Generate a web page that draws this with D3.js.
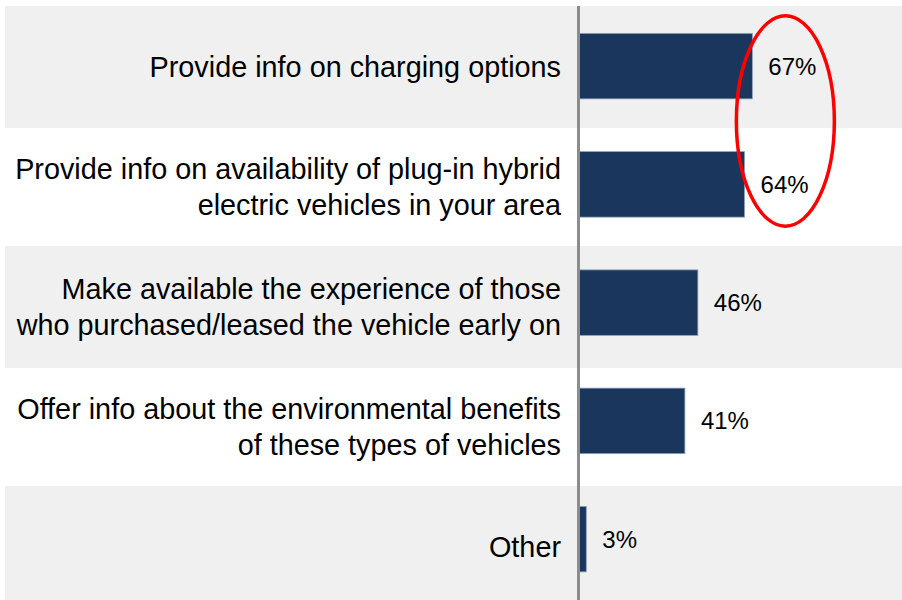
<!DOCTYPE html>
<html lang="en">
  <head>
    <meta charset="UTF-8" />
    <title>Ways to encourage plug-in hybrid adoption</title>
    <style>
      body {
        margin: 0;
        background-color: #ffffff;
      }
      svg {
        display: block;
        font-family: "Liberation Sans", Arial, sans-serif;
      }
    </style>
  </head>
  <body>
    <div id="chart"></div>

    <script src="https://d3js.org/d3.v7.min.js"></script>
    <script>
      // data
      const categories = [
        "Provide info on charging options",
        "Provide info on availability of plug-in hybrid\nelectric vehicles in your area",
        "Make available the experience of those\nwho purchased/leased the vehicle early on",
        "Offer info about the environmental benefits\nof these types of vehicles",
        "Other"
      ];
      const values = [67, 64, 46, 41, 3];
      const valueLabels = ["67%", "64%", "46%", "41%", "3%"];
      const highlighted = [0, 1]; // rows circled in red

      const width = 902;
      const height = 600;

      const svg = d3
        .select("#chart")
        .append("svg")
        .attr("width", width)
        .attr("height", height);

      // x scale: percent -> pixels, zero at the vertical axis
      const x = d3.scaleLinear().domain([0, 100]).range([578.5, 838]);

      // row scale for the striped background and the category labels
      const rows = d3.scaleBand().domain(d3.range(categories.length)).range([7, 607]);

      // bar scale
      const y = d3
        .scaleBand()
        .domain(d3.range(categories.length))
        .range([7, 598.25])
        .paddingInner(0.446)
        .paddingOuter(0.223);

      // alternating grey bands
      svg
        .append("g")
        .selectAll("rect")
        .data(categories.filter((d, i) => i % 2 === 0).map((d, k) => k * 2))
        .join("rect")
        .attr("x", 5)
        .attr("y", (i) => rows(i) - 1)
        .attr("width", width - 5)
        .attr("height", rows.bandwidth() + 2)
        .attr("fill", "#f0f0f0");

      // bars
      svg
        .append("g")
        .selectAll("rect")
        .data(values)
        .join("rect")
        .attr("x", x(0))
        .attr("y", (d, i) => y(i))
        .attr("width", (d) => x(d) - x(0))
        .attr("height", y.bandwidth())
        .attr("fill", "#1a365d")
        .attr("stroke", "#8ea2bd")
        .attr("stroke-width", 0.8);

      // vertical axis line
      svg
        .append("line")
        .attr("x1", x(0))
        .attr("x2", x(0))
        .attr("y1", 6)
        .attr("y2", height)
        .attr("stroke", "#8c8c8c")
        .attr("stroke-width", 3);

      // category labels (right aligned, centred on the row)
      const lineHeight = 36;
      const labels = svg
        .append("g")
        .selectAll("text")
        .data(categories)
        .join("text")
        .attr("text-anchor", "end")
        .attr("font-size", "28.8px")
        .attr("fill", "#000");

      labels.each(function (d, i) {
        const lines = d.split("\n");
        const c = rows(i) + rows.bandwidth() / 2;
        d3.select(this)
          .selectAll("tspan")
          .data(lines)
          .join("tspan")
          .attr("x", 561)
          .attr("y", (l, j) => c + 10.3 + (j - (lines.length - 1) / 2) * lineHeight)
          .text((l) => l);
      });

      // value labels
      svg
        .append("g")
        .selectAll("text")
        .data(values)
        .join("text")
        .attr("x", (d) => x(d) + 16)
        .attr("y", (d, i) => y(i) + y.bandwidth() / 2 + 8.5)
        .attr("font-size", "24px")
        .attr("fill", "#000")
        .text((d, i) => valueLabels[i]);

      // red ellipse around the top two values
      const top0 = y(highlighted[0]) - 17.5;
      const bottom1 = y(highlighted[1]) + y.bandwidth() + 9;
      svg
        .append("ellipse")
        .attr("cx", x(values[highlighted[0]]) + 33)
        .attr("cy", (top0 + bottom1) / 2)
        .attr("rx", 49)
        .attr("ry", (bottom1 - top0) / 2)
        .attr("fill", "none")
        .attr("stroke", "#ff0000")
        .attr("stroke-width", 3.5);
    </script>
  </body>
</html>
